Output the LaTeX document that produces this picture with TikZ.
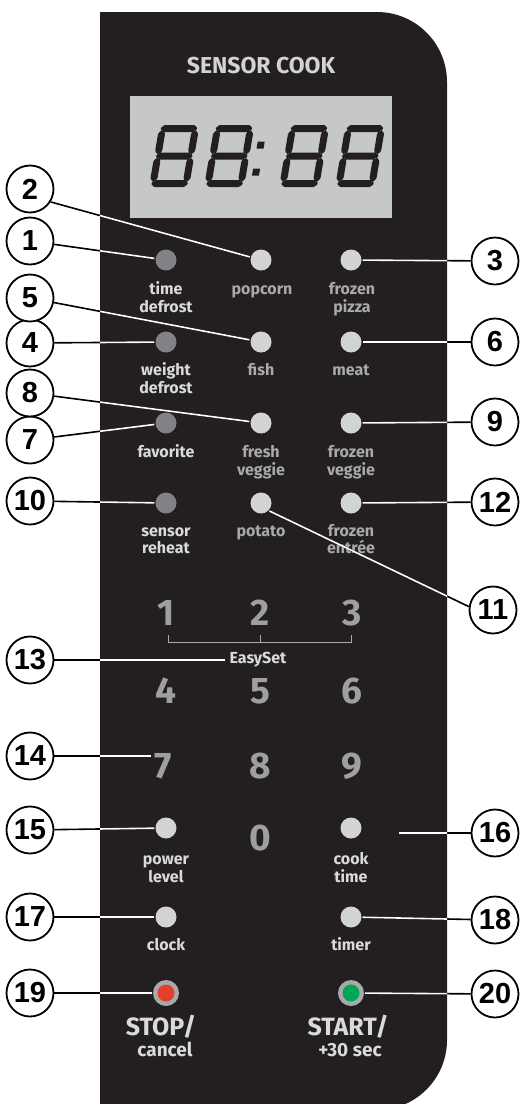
\documentclass[tikz,border=0pt]{standalone}
\usepackage{fontspec}
\setmainfont{Fira Sans}
\newfontfamily\calloutfont{Liberation Sans}
\usetikzlibrary{calc}
\definecolor{panelcol}{HTML}{231F20}
\definecolor{dispcol}{HTML}{C6C7C9}
\definecolor{segcol}{HTML}{231F20}
\definecolor{txtlight}{HTML}{D9DADB}
\definecolor{txtgray}{HTML}{A7A9AC}
\definecolor{numgray}{HTML}{9D9FA2}
\definecolor{btndarkcol}{HTML}{808285}
\definecolor{btnlightcol}{HTML}{D1D3D4}
\definecolor{ringcol}{HTML}{A7A9AC}
\definecolor{stopred}{HTML}{E2402A}
\definecolor{startgreen}{HTML}{00A651}
\newcommand\panelpath{(100,12) -- (377,12) arc[start angle=-90,end angle=0,radius=70] -- (447,1040) arc[start angle=0,end angle=90,radius=70] -- (100,1110) -- cycle}
\newcommand\leader[2]{%
  \draw[leadblack] #1 -- #2;
  \begin{scope}\clip \panelpath; \draw[leadwhite] #1 -- #2;\end{scope}}
\newcommand\sevenseg[1]{%
  \begin{scope}[shift={(#1,187)},x=1pt,y=1pt,xslant=0.17]
    \fill[segcol,rounded corners=1pt]
      (1.3,58.5) -- (4.8,62) -- (35.2,62) -- (38.7,58.5) -- (35.2,55) -- (4.8,55) -- cycle
      (1.3,31) -- (4.8,34.5) -- (35.2,34.5) -- (38.7,31) -- (35.2,27.5) -- (4.8,27.5) -- cycle
      (1.3,3.5) -- (4.8,7) -- (35.2,7) -- (38.7,3.5) -- (35.2,0) -- (4.8,0) -- cycle
      (3.5,4.8) -- (7,8.3) -- (7,26.2) -- (3.5,29.7) -- (0,26.2) -- (0,8.3) -- cycle
      (3.5,32.3) -- (7,35.8) -- (7,53.7) -- (3.5,57.2) -- (0,53.7) -- (0,35.8) -- cycle
      (36.5,4.8) -- (40,8.3) -- (40,26.2) -- (36.5,29.7) -- (33,26.2) -- (33,8.3) -- cycle
      (36.5,32.3) -- (40,35.8) -- (40,53.7) -- (36.5,57.2) -- (33,53.7) -- (33,35.8) -- cycle;
  \end{scope}}
\begin{document}
\begin{tikzpicture}[x=1pt,y=-1pt,
  callout/.style={circle,draw=black,line width=1.8pt,fill=white,minimum size=47pt,inner sep=0pt,
    font=\calloutfont\bfseries\fontsize{29}{32}\selectfont},
  btndark/.style={circle,fill=btndarkcol,minimum size=21pt,inner sep=0pt},
  btnlight/.style={circle,fill=btnlightcol,minimum size=21pt,inner sep=0pt},
  btnring/.style={circle,fill=ringcol,minimum size=26pt,inner sep=0pt},
  lbl/.style={font=\bfseries\fontsize{16}{18}\selectfont,anchor=base,inner sep=0pt},
  bignum/.style={font=\bfseries\fontsize{37}{40}\selectfont,text=numgray,anchor=base,inner sep=2pt},
  leadblack/.style={draw=black,line width=1.6pt,shorten >=1pt},
  leadwhite/.style={draw=white,line width=1.6pt,shorten >=1pt}]
\useasboundingbox (0,0) rectangle (524,1104);
\clip (0,0) rectangle (524,1104);
% panel
\fill[panelcol] \panelpath;
% display
\fill[dispcol] (130,96) rectangle (392,218);
\sevenseg{149}
\sevenseg{204}
\sevenseg{279}
\sevenseg{335}
\begin{scope}[shift={(253.5,187)},x=1pt,y=1pt,xslant=0.17]
  \fill[segcol] (-3.5,11.5) rectangle (3.5,18.5) (-3.5,38.5) rectangle (3.5,45.5);
\end{scope}
\node[font=\bfseries\fontsize{23}{26}\selectfont,text=btnlightcol,anchor=base,inner sep=0pt] (title) at (261,73) {SENSOR COOK};
% buttons
\node[btndark]  (b1)  at (166,260) {};
\node[btnlight] (b2)  at (261,260) {};
\node[btnlight] (b3)  at (351,260) {};
\node[btndark]  (b4)  at (166,342) {};
\node[btnlight] (b5)  at (261,342) {};
\node[btnlight] (b6)  at (351,342) {};
\node[btndark]  (b7)  at (166,423) {};
\node[btnlight] (b8)  at (261,423) {};
\node[btnlight] (b9)  at (351,423) {};
\node[btndark]  (b10) at (166,503) {};
\node[btnlight] (b11) at (261,503) {};
\node[btnlight] (b12) at (351,503) {};
\node[btnlight] (b15) at (166,828) {};
\node[btnlight] (b16) at (351,828) {};
\node[btnlight] (b17) at (166,917) {};
\node[btnlight] (b18) at (351,917) {};
\node[btnring]  (b19) at (166,993) {};
\node[circle,fill=stopred,minimum size=17pt,inner sep=0pt] (r19) at (b19) {};
\node[btnring]  (b20) at (351,993) {};
\node[circle,fill=startgreen,minimum size=17pt,inner sep=0pt] (g20) at (b20) {};
% labels
\node[lbl,text=txtlight] (l1a) at (166,294) {time};
\node[lbl,text=txtlight] (l1b) at (166,312) {defrost};
\node[lbl,text=txtgray]  (l2a) at (262,294) {popcorn};
\node[lbl,text=txtgray]  (l3a) at (352,294) {frozen};
\node[lbl,text=txtgray]  (l3b) at (352,312) {pizza};
\node[lbl,text=txtlight] (l4a) at (166,375) {weight};
\node[lbl,text=txtlight] (l4b) at (166,393) {defrost};
\node[lbl,text=txtgray]  (l5a) at (261,375) {fish};
\node[lbl,text=txtgray]  (l6a) at (351,375) {meat};
\node[lbl,text=txtlight] (l7a) at (166,457) {favorite};
\node[lbl,text=txtgray]  (l8a) at (261,457) {fresh};
\node[lbl,text=txtgray]  (l8b) at (261,475) {veggie};
\node[lbl,text=txtgray]  (l9a) at (351,457) {frozen};
\node[lbl,text=txtgray]  (l9b) at (351,475) {veggie};
\node[lbl,text=txtlight] (l10a) at (166,536) {sensor};
\node[lbl,text=txtlight] (l10b) at (166,553) {reheat};
\node[lbl,text=txtgray]  (l11a) at (261,536) {potato};
\node[lbl,text=txtgray]  (l12a) at (351,536) {frozen};
\node[lbl,text=txtgray]  (l12b) at (351,553) {entrée};
\node[lbl,text=txtlight] (l15a) at (166,864) {power};
\node[lbl,text=txtlight] (l15b) at (166,882) {level};
\node[lbl,text=txtlight] (l16a) at (351,864) {cook};
\node[lbl,text=txtlight] (l16b) at (351,882) {time};
\node[lbl,text=txtlight] (l17a) at (166,950) {clock};
\node[lbl,text=txtlight] (l18a) at (351,950) {timer};
\node[lbl,text=txtlight,font=\bfseries\fontsize{25}{28}\selectfont] (l19a) at (161,1035) {STOP/};
\node[lbl,text=txtlight,font=\bfseries\fontsize{19}{22}\selectfont] (l19b) at (165,1056) {cancel};
\node[lbl,text=txtlight,font=\bfseries\fontsize{25}{28}\selectfont] (l20a) at (348,1035) {START/};
\node[lbl,text=txtlight,font=\bfseries\fontsize{19}{22}\selectfont] (l20b) at (350,1056) {+30 sec};
% number pad
\node[bignum] (n1) at (166,625) {1};
\node[bignum] (n2) at (260,625) {2};
\node[bignum] (n3) at (352,625) {3};
\node[bignum] (n4) at (166,703) {4};
\node[bignum] (n5) at (260,703) {5};
\node[bignum] (n6) at (352,703) {6};
\node[bignum] (n7) at (163,778) {7};
\node[bignum] (n8) at (260,778) {8};
\node[bignum] (n9) at (352,778) {9};
\node[bignum] (n0) at (260,850) {0};
\draw[txtgray,line width=1pt] (168,635) -- (168,642) -- (351,642) -- (351,635) (260,642) -- (260,635);
\node[lbl,text=txtlight,inner sep=3pt] (easy) at (258,663) {EasySet};
\coordinate (p16) at (398,833);
% callouts
\node[callout] (c1)  at (30,241) {1};
\node[callout] (c2)  at (30,189) {2};
\node[callout] (c3)  at (495,261) {3};
\node[callout] (c4)  at (30,343) {4};
\node[callout] (c5)  at (30,298) {5};
\node[callout] (c6)  at (495,342) {6};
\node[callout] (c7)  at (30,440) {7};
\node[callout] (c8)  at (30,393) {8};
\node[callout] (c9)  at (495,422) {9};
\node[callout] (c10) at (30,501) {10};
\node[callout] (c11) at (493,610) {11};
\node[callout] (c12) at (495,502) {12};
\node[callout] (c13) at (30,660) {13};
\node[callout] (c14) at (30,756) {14};
\node[callout] (c15) at (30,830) {15};
\node[callout] (c16) at (495,833) {16};
\node[callout] (c17) at (30,917) {17};
\node[callout] (c18) at (495,920) {18};
\node[callout] (c19) at (30,993) {19};
\node[callout] (c20) at (495,994) {20};
% leaders
\leader{(c1)}{(b1)}
\leader{(c2.-32)}{(b2)}
\leader{(c3)}{(b3)}
\leader{(c4)}{(b4)}
\leader{(c5)}{(b5)}
\leader{(c6)}{(b6)}
\leader{(c7)}{(b7)}
\leader{(c8)}{(b8)}
\leader{(c9)}{(b9)}
\leader{(c10)}{(b10)}
\leader{(c11.172)}{(b11.-45)}
\leader{(c12)}{(b12)}
\leader{(c13)}{(c13 -| easy.west)}
\leader{(c14)}{(c14 -| n7.west)}
\leader{(c15)}{(b15)}
\leader{(c16)}{(p16)}
\leader{(c17)}{(b17)}
\leader{(c18)}{(b18)}
\leader{(c19)}{(b19)}
\leader{(c20)}{(b20)}
\end{tikzpicture}
\end{document}
